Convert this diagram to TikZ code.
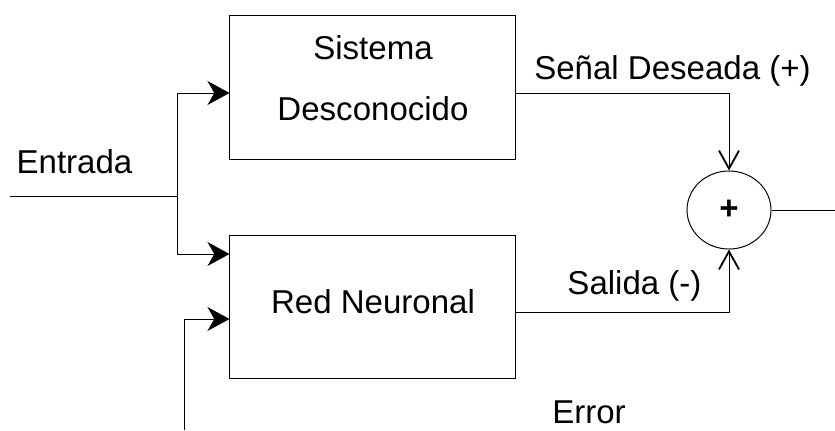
\documentclass[tikz,border=0pt]{standalone}
\usepackage{fontspec}
\setmainfont{Liberation Sans}
\usetikzlibrary{arrows.meta}
\usetikzlibrary{
        shapes.geometric,
    }

\begin{document}
\begin{tikzpicture}[x=0.025cm,y=-0.025cm,line width=0.7pt,
        font=\fontsize{23.5}{28}\selectfont,
        bloque/.style={draw,rectangle,minimum width=7.125cm,inner sep=0pt},
        suma/.style={draw,ellipse,minimum width=2.1cm,minimum height=1.95cm,inner sep=0pt},
        flecha/.style={-{Stealth[length=0.55cm,width=0.6cm,inset=0.17cm]}},
        barba/.style={-{Straight Barb[length=0.45cm,width=0.5cm,line width=1.3pt]}},
        texto/.style={anchor=base,inner sep=0pt}]
        \useasboundingbox (0,0) rectangle (835,430);
        \node[bloque,minimum height=3.575cm] (sistema) at (372.5,87.5) {};
        \node[bloque,minimum height=3.55cm] (red) at (372.5,307) {};
        \node[suma] (sumador) at (729,210) {\textbf{+}};
        \node[texto] (tsis) at (373,59) {Sistema};
        \node[texto] (tdes) at (373,120) {Desconocido};
        \node[texto] (tred) at (373,313) {Red Neuronal};
        \node[texto] (tent) at (74.5,173) {Entrada};
        \node[texto] (tsen) at (672.5,79) {Señal Deseada (+)};
        \node[texto] (tsal) at (634.5,294) {Salida (-)};
        \node[texto] (terr) at (589,423) {Error};
        \coordinate (entrada) at (10,196);
        \coordinate (rama) at (177,196);
        \coordinate (rama1) at (177,93);
        \coordinate (rama2) at (177,254);
        \coordinate (error) at (184,430);
        \coordinate (error1) at (184,319);
        \coordinate (salida) at (835,210);
        \draw (entrada) -- (rama);
        \draw (rama1) -- (rama2);
        \draw[flecha] (rama1) -- (rama1 -| sistema.west);
        \draw[flecha] (rama2) -- (rama2 -| red.west);
        \draw[flecha] (error) -- (error1) -- (error1 -| red.west);
        \draw[barba] (rama1 -| sistema.east) -| (sumador.north);
        \draw[barba] (red.east |- 0,312) -| (sumador.south);
        \draw (sumador.east) -- (salida);
    \end{tikzpicture}
\end{document}
